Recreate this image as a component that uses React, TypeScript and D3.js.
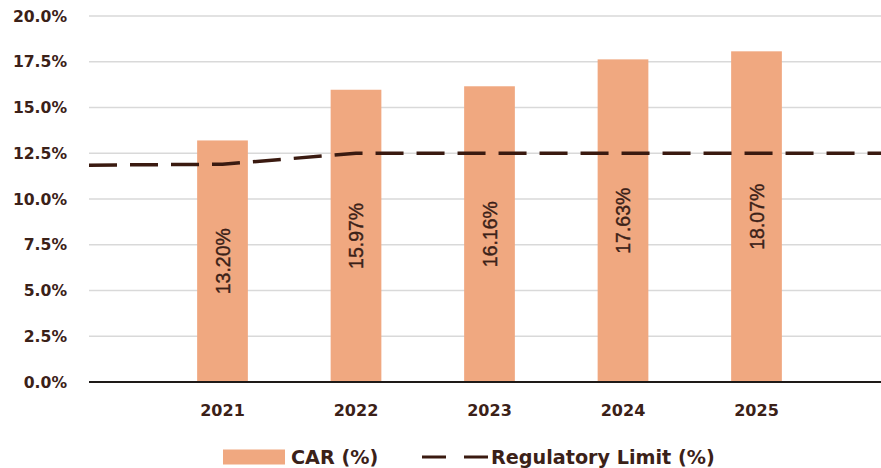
import React from "react";
import * as d3 from "d3";

const years = [2021, 2022, 2023, 2024, 2025];
const carValues = [13.2, 15.97, 16.16, 17.63, 18.07];
const limitYears = [2020, 2021, 2022, 2023, 2024, 2025, 2026];
const limitValues = [11.85, 11.9, 12.5, 12.5, 12.5, 12.5, 12.5];
const yTicks = [0, 2.5, 5, 7.5, 10, 12.5, 15, 17.5, 20];

const W = 881;
const H = 468;
const margin = { left: 89, right: 0, top: 16, bottom: 86 };

const BAR = "#f0a880";
const TEXT = "#3b2118";
const LINE = "#3a1a10";
const FONT = "'DejaVu Sans', sans-serif";

export default function App() {
  const plotRight = W - margin.right;
  const x = d3.scaleLinear().domain([2020, 2026]).range([margin.left, margin.left + 6 * 133.5]);
  const y = d3.scaleLinear().domain([0, 20]).range([H - margin.bottom, margin.top]);
  const step = x(2021) - x(2020);
  const barW = step * 0.38;

  const line = d3
    .line<number>()
    .x((_, i) => x(limitYears[i]))
    .y((d) => y(d));

  return (
    <svg width={W} height={H} style={{ position: "absolute", left: 0, top: 0, background: "#fff" }}>
      <defs>
        <clipPath id="plot">
          <rect x={margin.left} y={0} width={plotRight - margin.left} height={H} />
        </clipPath>
      </defs>
      {/* gridlines */}
      {yTicks.map((t) => (
        <line key={t} x1={margin.left} x2={plotRight} y1={y(t)} y2={y(t)} stroke="#d9d9d9" strokeWidth={1.5} />
      ))}
      {/* y tick labels */}
      {yTicks.map((t) => (
        <text
          key={"l" + t}
          x={67}
          y={y(t)}
          dy="0.36em"
          textAnchor="end"
          fontFamily={FONT}
          fontWeight={700}
          fontSize={15.6}
          fill={TEXT}
        >
          {d3.format(".1f")(t)}%
        </text>
      ))}
      {/* bars */}
      {years.map((yr, i) => (
        <rect
          key={yr}
          x={x(yr) - barW / 2}
          y={y(carValues[i])}
          width={barW}
          height={y(0) - y(carValues[i])}
          fill={BAR}
        />
      ))}
      {/* x axis */}
      <line x1={margin.left} x2={plotRight} y1={y(0)} y2={y(0)} stroke="#1e1a18" strokeWidth={2} />
      {years.map((yr) => (
        <text
          key={"x" + yr}
          x={x(yr)}
          y={y(0) + 28}
          dy="0.36em"
          textAnchor="middle"
          fontFamily={FONT}
          fontWeight={700}
          fontSize={16}
          fill={TEXT}
        >
          {yr}
        </text>
      ))}
      {/* regulatory limit line */}
      <path
        d={line(limitValues) || ""}
        fill="none"
        stroke={LINE}
        strokeWidth={3.5}
        strokeDasharray="28,13"
        clipPath="url(#plot)"
      />
      {/* value labels */}
      {years.map((yr, i) => {
        const cx = x(yr);
        const cy = (y(carValues[i]) + y(0)) / 2;
        return (
          <text
            key={"v" + yr}
            transform={`translate(${cx},${cy}) rotate(-90)`}
            textAnchor="middle"
            dy="0.36em"
            fontFamily="'Liberation Sans', Arial, sans-serif"
            fontSize={19.5}
            fill={TEXT}
            stroke={TEXT}
            strokeWidth={0.4}
          >
            {carValues[i].toFixed(2)}%
          </text>
        );
      })}
      {/* legend */}
      <g transform="translate(222,457)">
        <rect x={1} y={-7.5} width={62} height={15} fill={BAR} />
        <text x={69} dy="0.36em" fontFamily={FONT} fontWeight={700} fontSize={19.2} fill={TEXT}>
          CAR (%)
        </text>
        <line x1={200} x2={266} y1={0} y2={0} stroke={LINE} strokeWidth={3} strokeDasharray="24,18" />
        <text x={269} dy="0.36em" fontFamily={FONT} fontWeight={700} fontSize={19.2} fill={TEXT}>
          Regulatory Limit (%)
        </text>
      </g>
    </svg>
  );
}
